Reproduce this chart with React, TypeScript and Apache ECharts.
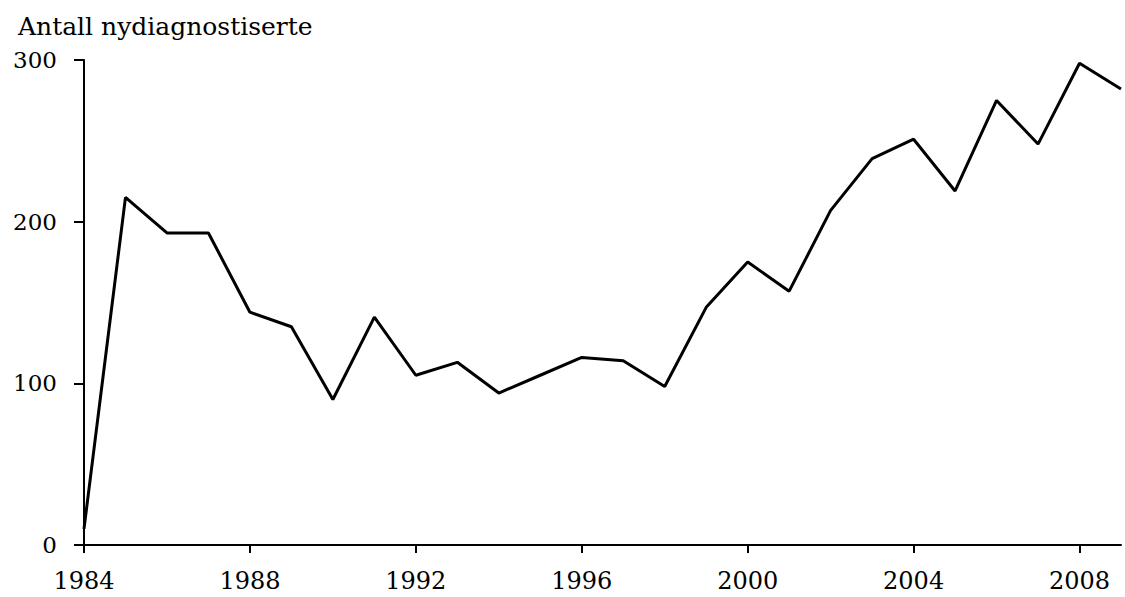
import React, { useEffect, useRef } from "react";
import * as echarts from "echarts";

const years = [
  "1984", "1985", "1986", "1987", "1988", "1989", "1990", "1991", "1992",
  "1993", "1994", "1995", "1996", "1997", "1998", "1999", "2000", "2001",
  "2002", "2003", "2004", "2005", "2006", "2007", "2008", "2009",
];
const newlyDiagnosed = [
  10, 215, 193, 193, 144, 135, 90, 141, 105, 113, 94, 105, 116, 114, 98,
  147, 175, 157, 207, 239, 251, 219, 275, 248, 298, 282,
];
const yTitle = "Antall nydiagnostiserte";

const FONT = "DejaVu Serif";

export default function App() {
  const ref = useRef<HTMLDivElement>(null);
  useEffect(() => {
    if (!ref.current) return;
    const chart = echarts.init(ref.current, null, { renderer: "svg" });
    chart.setOption({
      animation: false,
      backgroundColor: "#ffffff",
      title: {
        text: yTitle,
        left: 13,
        top: 9,
        textStyle: { fontFamily: FONT, fontSize: 25, fontWeight: "normal", color: "#000" },
      },
      grid: { left: 84, right: 4, top: 60, bottom: 52, containLabel: false },
      xAxis: {
        type: "category",
        data: years,
        boundaryGap: false,
        axisLine: { show: true, lineStyle: { color: "#000", width: 2 } },
        axisTick: { show: true, interval: 3, length: 8, lineStyle: { color: "#000", width: 2 } },
        axisLabel: {
          interval: 3,
          margin: 24,
          color: "#000",
          fontFamily: FONT,
          fontSize: 24,
          lineHeight: 24,
        },
        splitLine: { show: false },
      },
      yAxis: {
        type: "value",
        min: 0,
        max: 300,
        interval: 100,
        axisLine: { show: true, lineStyle: { color: "#000", width: 2 } },
        axisTick: { show: true, length: 10, lineStyle: { color: "#000", width: 2 } },
        axisLabel: {
          margin: 27,
          color: "#000",
          fontFamily: FONT,
          fontSize: 23,
        },
        splitLine: { show: false },
      },
      series: [
        {
          type: "line",
          data: newlyDiagnosed,
          showSymbol: false,
          symbol: "none",
          lineStyle: { color: "#000", width: 3 },
        },
      ],
    });
    return () => chart.dispose();
  }, []);
  return (
    <div
      ref={ref}
      style={{ position: "fixed", left: 0, top: 0, width: 1125, height: 597 }}
    />
  );
}
